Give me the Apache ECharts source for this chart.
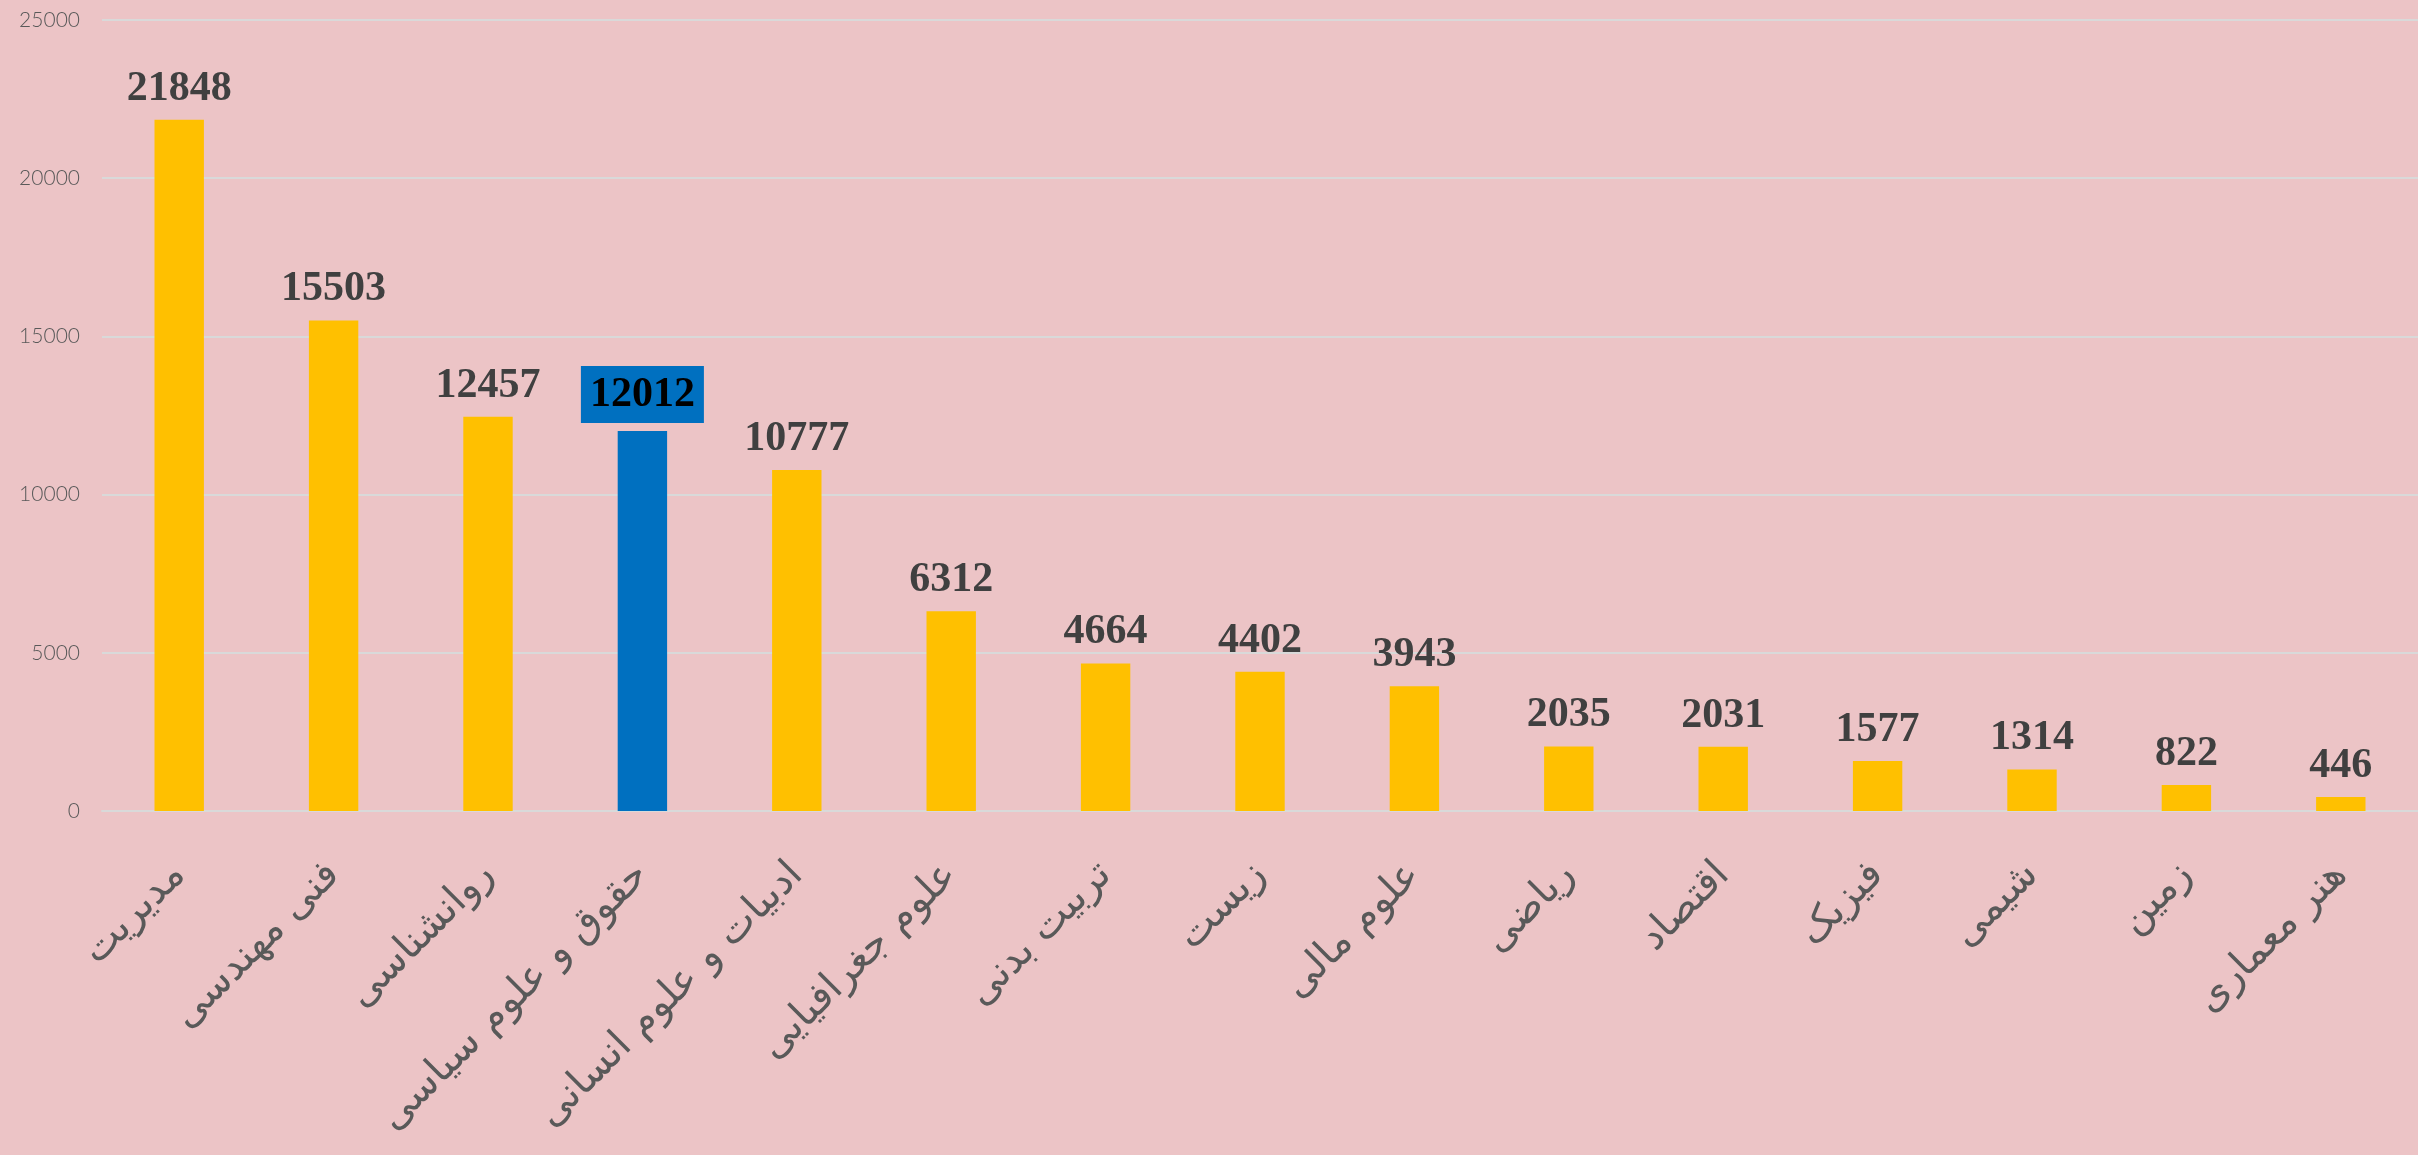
<!DOCTYPE html>
<html>
<head>
<meta charset="utf-8">
<script src="https://cdn.jsdelivr.net/npm/echarts@6/dist/echarts.min.js"></script>
<style>
html,body{margin:0;padding:0;background:#ecc4c6;}
#c{width:2418px;height:1155px;}
</style>
</head>
<body>
<div id="c"></div>
<script>
const categories = ["مدیریت","فنی مهندسی","روانشناسی","حقوق و علوم سیاسی","ادبیات و علوم انسانی","علوم جغرافیایی","تربیت بدنی","زیست","علوم مالی","ریاضی","اقتصاد","فیزیک","شیمی","زمین","هنر معماری"];
const values = [21848,15503,12457,12012,10777,6312,4664,4402,3943,2035,2031,1577,1314,822,446];
const highlightIndex = 3;
const yTicks = {min:0, max:25000, interval:5000};

const chart = echarts.init(document.getElementById('c'));
const data = values.map((v,i)=> i===highlightIndex ? {
  value:v,
  itemStyle:{color:'#0070C0'},
  label:{color:'#000',backgroundColor:'#0070C0',padding:[8,9,7,9],distance:8}
} : v);
chart.setOption({
  backgroundColor:'#ecc4c6',
  animation:false,
  grid:{left:102,right:0,top:20,bottom:344,containLabel:false},
  xAxis:{
    type:'category',
    data:categories,
    axisTick:{show:false},
    axisLine:{show:true,lineStyle:{color:'#d9d9d9',width:2}},
    axisLabel:{rotate:45,interval:0,margin:58,color:'#595959',fontSize:40,fontFamily:'DejaVu Sans'}
  },
  yAxis:{
    type:'value',
    min:yTicks.min,max:yTicks.max,interval:yTicks.interval,
    axisLine:{show:false},
    axisTick:{show:false},
    splitLine:{lineStyle:{color:'#d9d9d9',width:2}},
    axisLabel:{margin:22,color:'#595959',fontSize:21,fontFamily:'Lato',fontWeight:300,formatter:v=>String(v)}
  },
  series:[{
    type:'bar',
    data:data,
    barWidth:'32%',
    itemStyle:{color:'#FFC000'},
    label:{show:true,position:'top',distance:10,color:'#404040',fontSize:42,fontWeight:'bold',fontFamily:'Liberation Serif'}
  }]
});
</script>
</body>
</html>
